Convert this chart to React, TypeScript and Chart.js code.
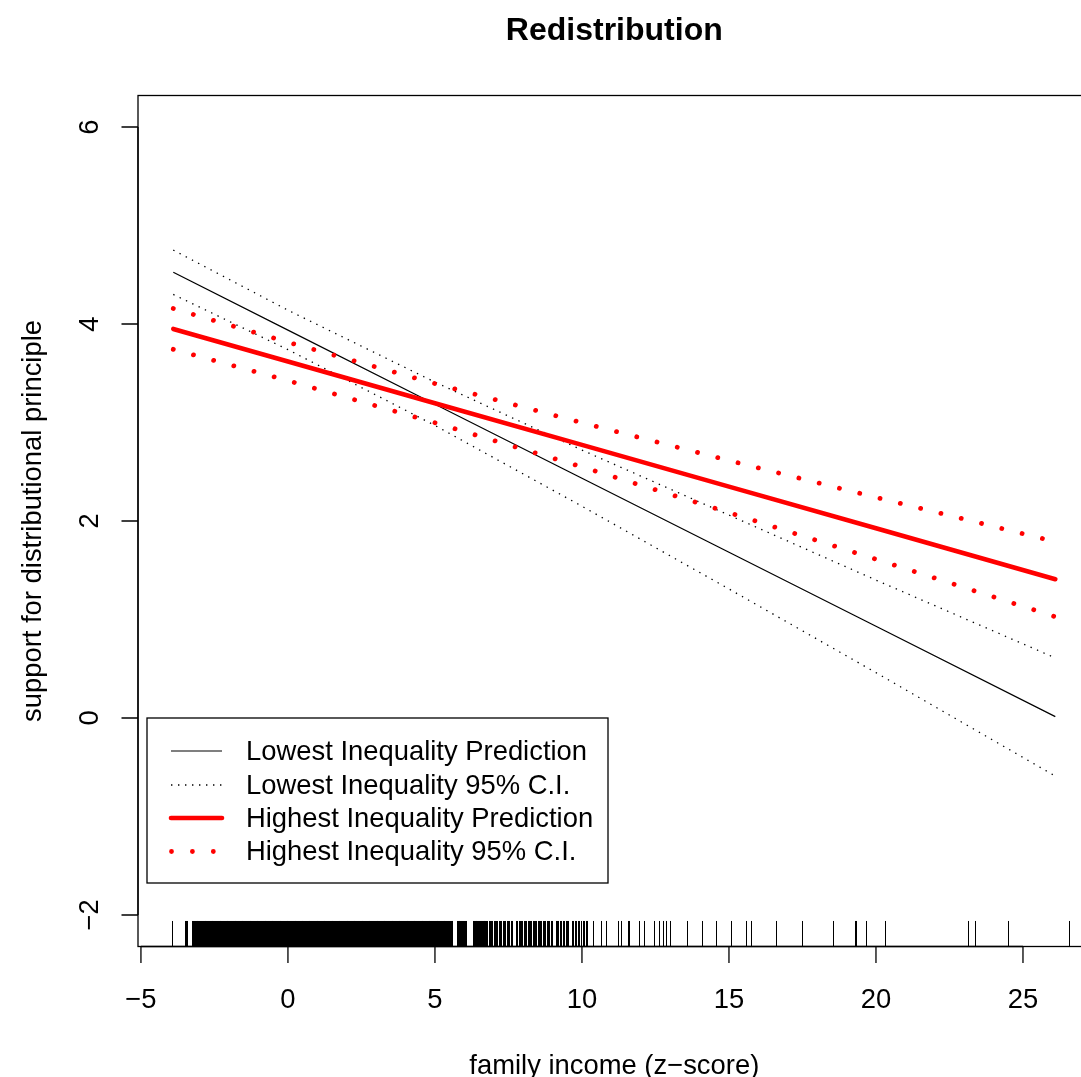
import { useEffect, useRef } from "react";
import { Chart, registerables } from "chart.js";

Chart.register(...registerables);

// ---- data ----
const incomeGrid = [-3.9, 0, 5, 10, 15, 20, 26.1];
const lowPrediction = [4.525, 3.938, 3.186, 2.434, 1.683, 0.931, 0.014];
const lowUpperCI = [4.75, 4.14, 3.41, 2.72, 2.06, 1.4, 0.61];
const lowLowerCI = [4.3, 3.74, 2.97, 2.15, 1.31, 0.46, -0.59];
const highPrediction = [3.95, 3.62, 3.196, 2.773, 2.349, 1.926, 1.409];
const highUpperCI = [4.157, 3.815, 3.395, 2.998, 2.614, 2.24, 1.79];
const highLowerCI = [3.743, 3.425, 2.997, 2.549, 2.085, 1.612, 1.028];

const xTicks = [-5, 0, 5, 10, 15, 20, 25];
const yTicks = [-2, 0, 2, 4, 6];

const legendLabels = [
  "Lowest Inequality Prediction",
  "Lowest Inequality 95% C.I.",
  "Highest Inequality Prediction",
  "Highest Inequality 95% C.I.",
];

const titleText = "Redistribution";
const xTitle = "family income (z\u2212score)";
const yTitle = "support for distributional principle";

// observed family income values (rug)
const rugIncome = [
  -3.92, -3.5, -3.45, -3.4,
  -3.24, -3.21, -3.18, -3.15, -3.12, -3.09, -3.06, -3.03, -3.0, -2.97, -2.94, -2.91, -2.88,
  -2.85, -2.82, -2.79, -2.76, -2.73, -2.7, -2.67, -2.64, -2.61, -2.58, -2.55, -2.52, -2.49,
  -2.46, -2.43, -2.4, -2.37, -2.34, -2.31, -2.28, -2.25, -2.22, -2.19, -2.16, -2.13, -2.1,
  -2.07, -2.04, -2.01, -1.98, -1.95, -1.92, -1.89, -1.86, -1.83, -1.8, -1.77, -1.74, -1.71,
  -1.68, -1.65, -1.62, -1.59, -1.56, -1.53, -1.5, -1.47, -1.44, -1.41, -1.38, -1.35, -1.32,
  -1.29, -1.26, -1.23, -1.2, -1.17, -1.14, -1.11, -1.08, -1.05, -1.02, -0.99, -0.96, -0.93,
  -0.9, -0.87, -0.84, -0.81, -0.78, -0.75, -0.72, -0.69, -0.66, -0.63, -0.6, -0.57, -0.54,
  -0.51, -0.48, -0.45, -0.42, -0.39, -0.36, -0.33, -0.3, -0.27, -0.24, -0.21, -0.18, -0.15,
  -0.12, -0.09, -0.06, -0.03, 0.0, 0.03, 0.06, 0.09, 0.12, 0.15, 0.18, 0.21, 0.24, 0.27,
  0.3, 0.33, 0.36, 0.39, 0.42, 0.45, 0.48, 0.51, 0.54, 0.57, 0.6, 0.63, 0.66, 0.69, 0.72,
  0.75, 0.78, 0.81, 0.84, 0.87, 0.9, 0.93, 0.96, 0.99, 1.02, 1.05, 1.08, 1.11, 1.14, 1.17,
  1.2, 1.23, 1.26, 1.29, 1.32, 1.35, 1.38, 1.41, 1.44, 1.47, 1.5, 1.53, 1.56, 1.59, 1.62,
  1.65, 1.68, 1.71, 1.74, 1.77, 1.8, 1.83, 1.86, 1.89, 1.92, 1.95, 1.98, 2.01, 2.04, 2.07,
  2.1, 2.13, 2.16, 2.19, 2.22, 2.25, 2.28, 2.31, 2.34, 2.37, 2.4, 2.43, 2.46, 2.49, 2.52,
  2.55, 2.58, 2.61, 2.64, 2.67, 2.7, 2.73, 2.76, 2.79, 2.82, 2.85, 2.88, 2.91, 2.94, 2.97,
  3.0, 3.03, 3.06, 3.09, 3.12, 3.15, 3.18, 3.21, 3.24, 3.27, 3.3, 3.33, 3.36, 3.39, 3.42,
  3.45, 3.48, 3.51, 3.54, 3.57, 3.6, 3.63, 3.66, 3.69, 3.72, 3.75, 3.78, 3.81, 3.84, 3.87,
  3.9, 3.93, 3.96, 3.99, 4.02, 4.05, 4.08, 4.11, 4.14, 4.17, 4.2, 4.23, 4.26, 4.29, 4.32,
  4.35, 4.38, 4.41, 4.44, 4.47, 4.5, 4.53, 4.56, 4.59, 4.62, 4.65, 4.68, 4.71, 4.74, 4.77,
  4.8, 4.83, 4.86, 4.89, 4.92, 4.95, 4.98, 5.01, 5.04, 5.07, 5.1, 5.13, 5.16, 5.19, 5.22,
  5.25, 5.28, 5.31, 5.34, 5.37, 5.4, 5.43, 5.46, 5.49, 5.52, 5.55, 5.58, 5.61,
  5.76, 5.79, 5.82, 5.85, 5.88, 5.91, 5.94, 5.97, 6.0, 6.03, 6.06,
  6.31, 6.34, 6.37, 6.4, 6.43, 6.46, 6.49, 6.52, 6.55, 6.58, 6.61, 6.64, 6.67, 6.7, 6.73,
  6.76, 6.79, 6.84, 6.88, 6.92, 6.97, 7.01, 7.05, 7.1, 7.14, 7.19, 7.23, 7.28, 7.32, 7.37,
  7.41, 7.46, 7.5, 7.55, 7.59, 7.63,
  7.78, 7.82, 7.86, 7.91, 7.95, 7.99, 8.04, 8.08, 8.12, 8.17, 8.21, 8.25, 8.3, 8.34, 8.38,
  8.43, 8.47, 8.51, 8.56, 8.6, 8.64, 8.69, 8.73, 8.77, 8.82, 8.86, 8.9, 8.95, 9.0,
  9.12, 9.16, 9.21, 9.26, 9.31, 9.36, 9.41, 9.46, 9.51, 9.55,
  9.67, 9.72, 9.77, 9.83, 9.88, 9.93, 9.99, 10.04, 10.1, 10.15, 10.2,
  10.38, 10.67, 10.84, 11.24, 11.35, 11.58, 11.63, 11.97, 12.14, 12.48, 12.65, 12.77,
  12.88, 13.0, 13.6, 14.1, 14.56, 15.09, 15.6, 15.75, 16.62, 17.49, 18.57, 19.29,
  19.34, 19.68, 20.31, 23.14, 23.37, 24.5, 26.57,
];

// ---- styles ----
const FONT = '"Liberation Sans", Arial, Helvetica, sans-serif';
const RED = "#ff0000";
const BLACK = "#000000";

const styleLowPred = { color: BLACK, width: 1.2, dash: [] as number[], cap: "butt" };
const styleLowCI = { color: BLACK, width: 1.3, dash: [1.4, 5.6], cap: "butt" };
const styleHighPred = { color: RED, width: 4.6, dash: [] as number[], cap: "round" };
const styleHighCI = { color: RED, width: 4.8, dash: [0.01, 20.9], cap: "round" };
const legendStyles = [styleLowPred, styleLowCI, styleHighPred, styleHighCI];

const fmt = (v: number) => (v < 0 ? "\u2212" + String(-v) : String(v));

function series(ys: number[]) {
  return incomeGrid.map((x, i) => ({ x, y: ys[i] }));
}

function lineDs(label: string, ys: number[], st: any) {
  return {
    label,
    data: series(ys),
    showLine: true,
    pointRadius: 0,
    borderColor: st.color,
    backgroundColor: st.color,
    borderWidth: st.width,
    borderDash: st.dash,
    borderCapStyle: st.cap,
    borderJoinStyle: "round",
    tension: 0,
    fill: false,
  };
}

const rPlot = {
  id: "rPlot",
  afterDatasetsDraw(chart: any) {
    const ctx: CanvasRenderingContext2D = chart.ctx;
    const ca = chart.chartArea;
    const xs = chart.scales.x;
    const ys = chart.scales.y;
    ctx.save();

    // rug (snapped to pixel columns, like R's raster output)
    ctx.strokeStyle = BLACK;
    ctx.lineWidth = 1;
    ctx.setLineDash([]);
    const rugLen = (ca.bottom - ca.top) * 0.03;
    for (const v of rugIncome) {
      const px = Math.floor(xs.getPixelForValue(v)) + 0.5;
      ctx.beginPath();
      ctx.moveTo(px, ca.bottom);
      ctx.lineTo(px, ca.bottom - rugLen);
      ctx.stroke();
    }

    // box
    ctx.lineWidth = 1.3;
    ctx.strokeRect(ca.left, ca.top, ca.right - ca.left, ca.bottom - ca.top);

    const tickLen = 16.5;
    // x axis
    const x0 = xs.getPixelForValue(xTicks[0]);
    const x1 = xs.getPixelForValue(xTicks[xTicks.length - 1]);
    ctx.beginPath();
    ctx.moveTo(x0, ca.bottom);
    ctx.lineTo(x1, ca.bottom);
    for (const t of xTicks) {
      const px = xs.getPixelForValue(t);
      ctx.moveTo(px, ca.bottom);
      ctx.lineTo(px, ca.bottom + tickLen);
    }
    ctx.stroke();
    ctx.fillStyle = BLACK;
    ctx.font = `27.4px ${FONT}`;
    ctx.textAlign = "center";
    ctx.textBaseline = "alphabetic";
    for (const t of xTicks) {
      ctx.fillText(fmt(t), xs.getPixelForValue(t), 1008);
    }

    // y axis
    const y0 = ys.getPixelForValue(yTicks[0]);
    const y1 = ys.getPixelForValue(yTicks[yTicks.length - 1]);
    ctx.beginPath();
    ctx.moveTo(ca.left, y0);
    ctx.lineTo(ca.left, y1);
    for (const t of yTicks) {
      const py = ys.getPixelForValue(t);
      ctx.moveTo(ca.left, py);
      ctx.lineTo(ca.left - tickLen, py);
    }
    ctx.stroke();
    for (const t of yTicks) {
      const py = ys.getPixelForValue(t);
      ctx.save();
      ctx.translate(98, py);
      ctx.rotate(-Math.PI / 2);
      ctx.fillText(fmt(t), 0, 0);
      ctx.restore();
    }

    // axis titles
    const cx = (ca.left + ca.right) / 2;
    const cy = (ca.top + ca.bottom) / 2;
    ctx.fillText(xTitle, cx, 1074);
    ctx.save();
    ctx.translate(41, cy);
    ctx.rotate(-Math.PI / 2);
    ctx.fillText(yTitle, 0, 0);
    ctx.restore();

    // title
    ctx.font = `bold 32px ${FONT}`;
    ctx.fillText(titleText, cx, 40);

    // legend
    ctx.lineWidth = 1.3;
    ctx.strokeStyle = BLACK;
    ctx.fillStyle = "#ffffff";
    ctx.fillRect(147, 718, 461, 165);
    ctx.strokeRect(147, 718, 461, 165);
    const rows = [751, 785, 818, 851.5];
    ctx.font = `27.4px ${FONT}`;
    ctx.textAlign = "left";
    ctx.textBaseline = "middle";
    legendLabels.forEach((lab, i) => {
      const st: any = legendStyles[i];
      ctx.save();
      ctx.strokeStyle = st.color;
      ctx.lineWidth = st.width;
      ctx.setLineDash(st.dash);
      ctx.lineCap = st.cap;
      ctx.beginPath();
      ctx.moveTo(i === 3 ? 171.5 : 171, rows[i]);
      ctx.lineTo(222, rows[i]);
      ctx.stroke();
      ctx.restore();
      ctx.fillStyle = BLACK;
      ctx.fillText(lab, 246, rows[i] + 1);
    });

    ctx.restore();
  },
};

export default function App() {
  const ref = useRef<HTMLCanvasElement | null>(null);

  useEffect(() => {
    if (!ref.current) return;
    const chart = new Chart(ref.current, {
      type: "scatter",
      data: {
        datasets: [
          lineDs(legendLabels[2], highPrediction, styleHighPred),
          lineDs(legendLabels[3], highUpperCI, styleHighCI),
          lineDs(legendLabels[3], highLowerCI, styleHighCI),
          lineDs(legendLabels[0], lowPrediction, styleLowPred),
          lineDs(legendLabels[1], lowUpperCI, styleLowCI),
          lineDs(legendLabels[1], lowLowerCI, styleLowCI),
        ] as any,
      },
      options: {
        animation: false,
        responsive: false,
        devicePixelRatio: 1,
        events: [],
        layout: { padding: { left: 138, top: 95.5, right: 9.4, bottom: 130.5 } },
        scales: {
          x: { type: "linear", min: -5.1, max: 27.3, display: false },
          y: { type: "linear", min: -2.32, max: 6.32, display: false },
        },
        plugins: {
          legend: { display: false },
          tooltip: { enabled: false },
          title: { display: false },
        },
      } as any,
      plugins: [rPlot],
    });
    return () => chart.destroy();
  }, []);

  return (
    <div
      style={{
        position: "fixed",
        left: 0,
        top: 0,
        width: 1081,
        height: 1077,
        overflow: "hidden",
        background: "#ffffff",
      }}
    >
      <canvas ref={ref} width={1100} height={1077} style={{ display: "block", width: 1100, height: 1077 }} />
    </div>
  );
}
